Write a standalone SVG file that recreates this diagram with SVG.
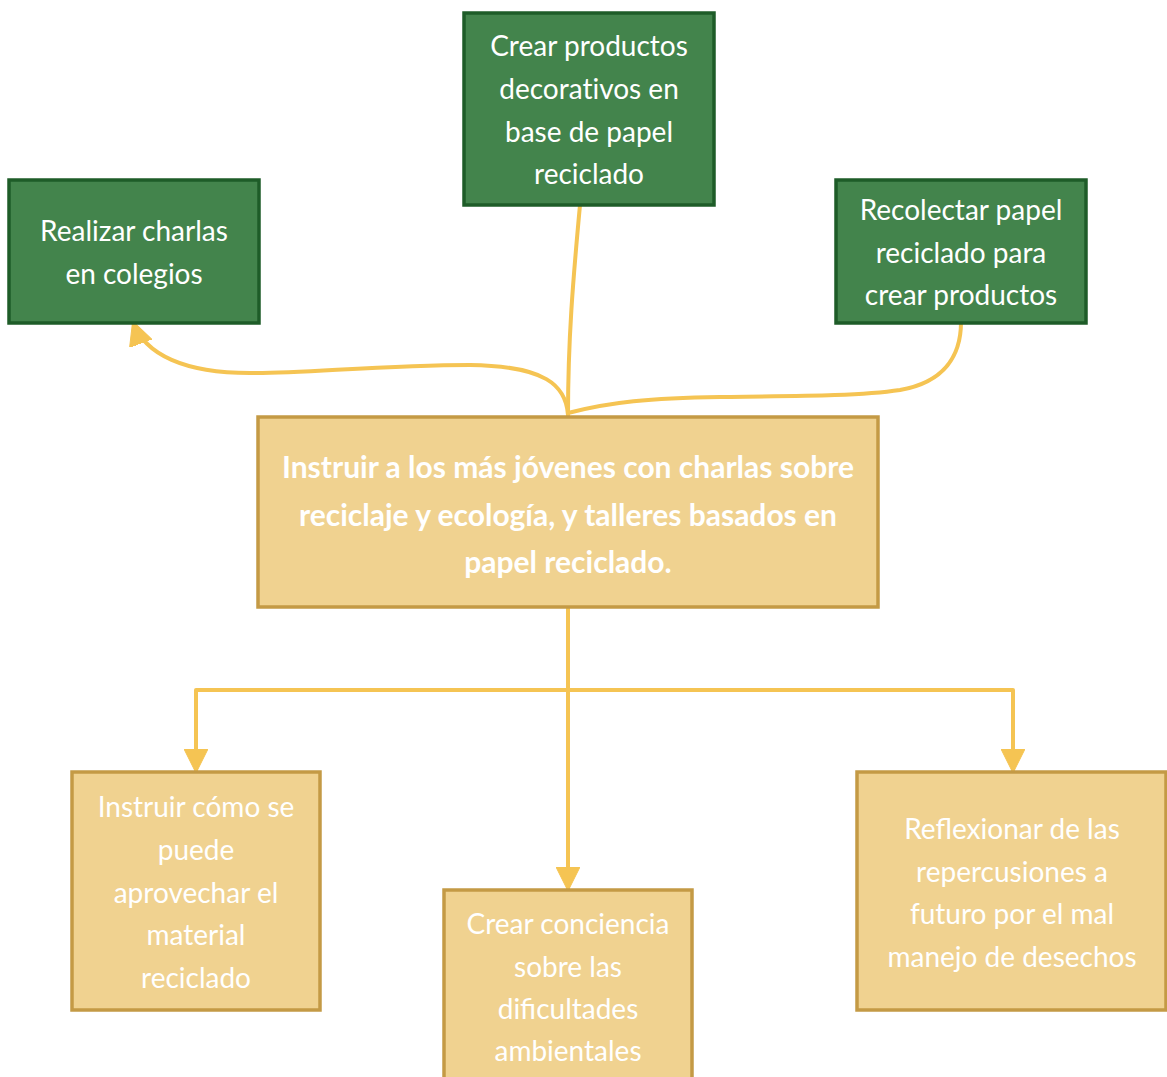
<svg xmlns="http://www.w3.org/2000/svg" width="1167" height="1077" viewBox="0 0 1167 1077">
<defs>
<style>
.g{fill:#43844c;stroke:#1e5c28;stroke-width:3.5}
.y{fill:#f0d290;stroke:#c49a45;stroke-width:3.5}
.t{font-family:Lato,"Noto Sans",sans-serif;font-size:28px;fill:#ffffff;text-anchor:middle}
.b{font-family:Lato,"Noto Sans",sans-serif;font-size:30px;font-weight:bold;fill:#ffffff;text-anchor:middle}
.nl{font-variant-ligatures:none}
.c{fill:none;stroke:#f5c453;stroke-width:4;stroke-linecap:round;stroke-linejoin:round}
</style>
<marker id="ah" viewBox="0 0 24 24" refX="23" refY="12" markerWidth="24" markerHeight="24" markerUnits="userSpaceOnUse" orient="auto">
<path d="M0,0 L24,12 L0,24 Z" fill="#f5c453" stroke="#f5c453" stroke-width="1" stroke-linejoin="round"/>
</marker>
</defs>
<rect width="1167" height="1077" fill="#ffffff"/>
<g id="connectors">
<path class="c" d="M568,415 C568,340 573,280 580,205"/>
<path class="c" d="M568,415 C566,385 545,366 470,365 C380,365 300,374 250,373 C185,373 145,355 133,322" marker-end="url(#ah)"/>
<path class="c" d="M568,413 C610,402 650,398 720,397 C800,396 860,396 900,390 C945,382 961,355 961,322"/>
<path class="c" d="M568,607 V890" marker-end="url(#ah)"/>
<path class="c" d="M568,690 H196 V772" marker-end="url(#ah)"/>
<path class="c" d="M568,690 H1013 V772" marker-end="url(#ah)"/>
</g>
<g id="node-crear-productos">
<rect class="g" x="464" y="13" width="250" height="192"/>
<text class="t" x="589" y="56">Crear productos</text>
<text class="t nl" x="589" y="99">decorativos en</text>
<text class="t" x="589" y="142">base de papel</text>
<text class="t" x="589" y="184">reciclado</text>
</g>
<g id="node-realizar-charlas">
<rect class="g" x="9" y="180" width="250" height="143"/>
<text class="t" x="134" y="241">Realizar charlas</text>
<text class="t" x="134" y="284">en colegios</text>
</g>
<g id="node-recolectar">
<rect class="g" x="836" y="180" width="250" height="143"/>
<text class="t" x="961" y="220">Recolectar papel</text>
<text class="t" x="961" y="263">reciclado para</text>
<text class="t" x="961" y="305">crear productos</text>
</g>
<g id="node-central">
<rect class="y" x="258" y="417" width="620" height="190"/>
<text class="b" x="568" y="478">Instruir a los más jóvenes con charlas sobre</text>
<text class="b" x="568" y="526">reciclaje y ecología, y talleres basados en</text>
<text class="b" x="568" y="573">papel reciclado.</text>
</g>
<g id="node-instruir">
<rect class="y" x="72" y="772" width="248" height="238"/>
<text class="t" x="196" y="817">Instruir cómo se</text>
<text class="t" x="196" y="860">puede</text>
<text class="t" x="196" y="903">aprovechar el</text>
<text class="t" x="196" y="945">material</text>
<text class="t" x="196" y="988">reciclado</text>
</g>
<g id="node-conciencia">
<rect class="y" x="444" y="890" width="248" height="200"/>
<text class="t" x="568" y="934">Crear conciencia</text>
<text class="t" x="568" y="977">sobre las</text>
<text class="t" x="568" y="1019">dificultades</text>
<text class="t" x="568" y="1061">ambientales</text>
</g>
<g id="node-reflexionar">
<rect class="y" x="857" y="772" width="309" height="238"/>
<text class="t" x="1012" y="839">Reflexionar de las</text>
<text class="t" x="1012" y="882">repercusiones a</text>
<text class="t" x="1012" y="924">futuro por el mal</text>
<text class="t" x="1012" y="967">manejo de desechos</text>
</g>
</svg>
